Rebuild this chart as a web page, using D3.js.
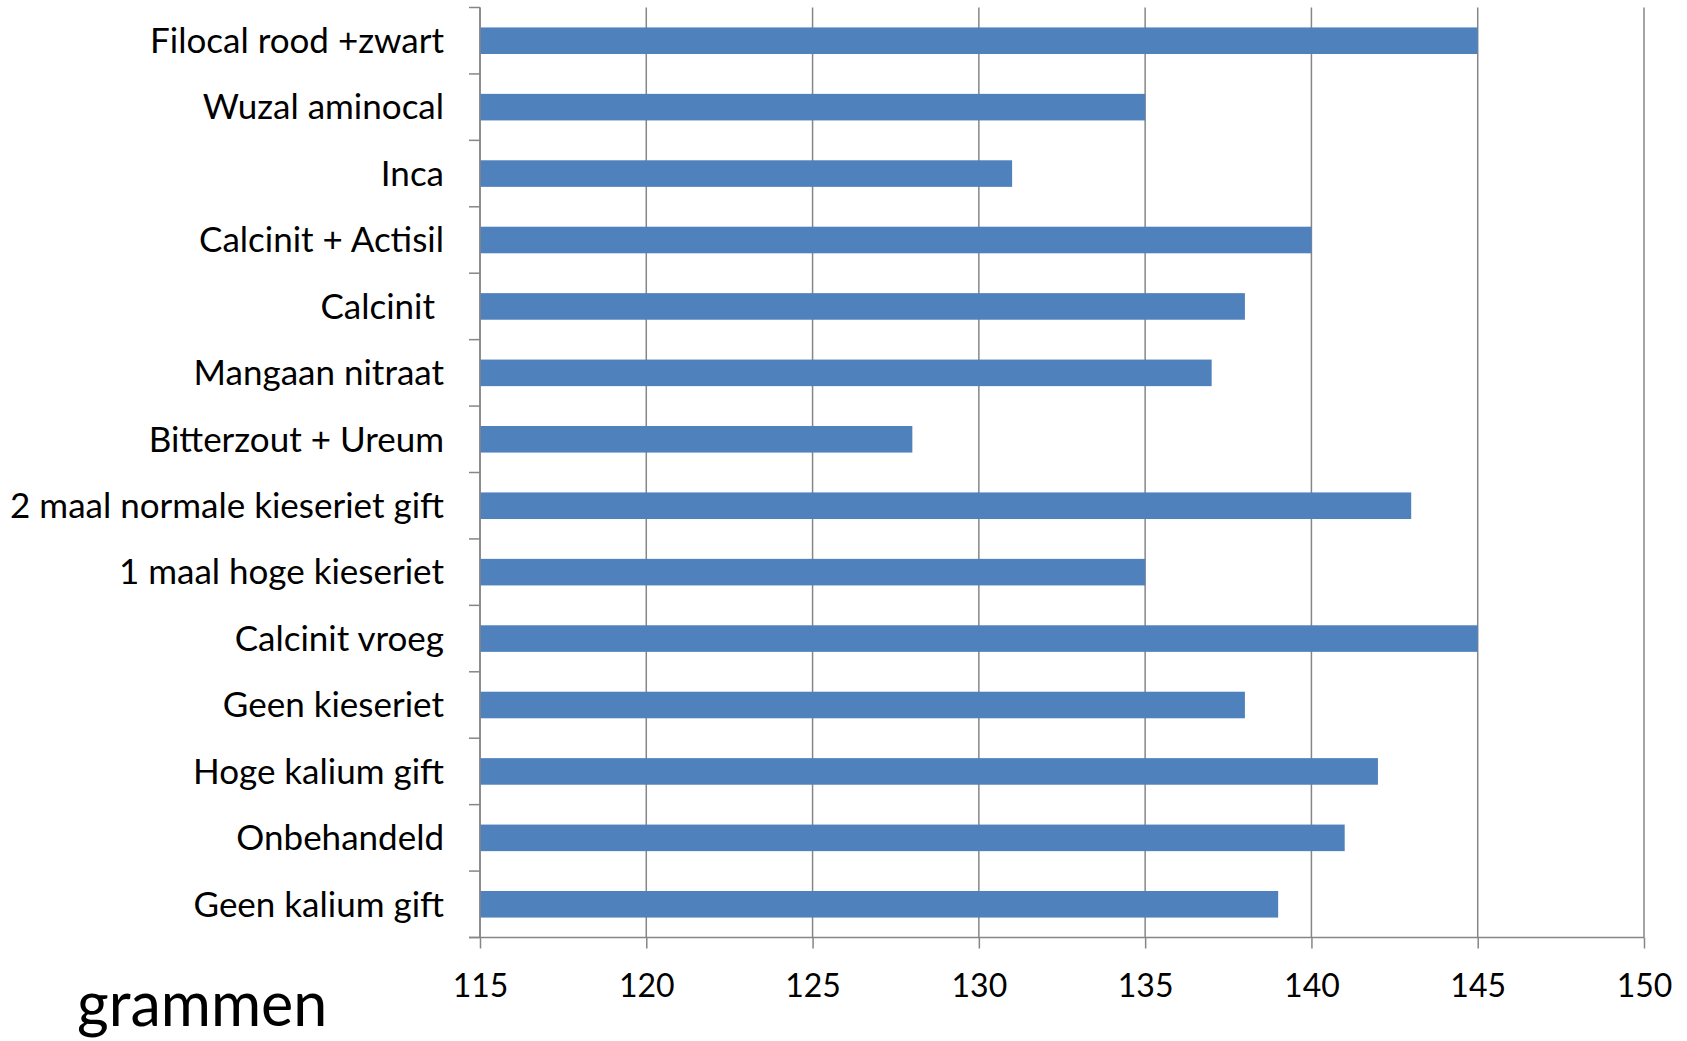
<!DOCTYPE html>
<html>
<head>
<meta charset="utf-8">
<script src="https://cdn.jsdelivr.net/npm/d3@7/dist/d3.min.js"></script>
<style>
  body { margin: 0; background: #fff; }
  text { font-family: Lato, "Open Sans", sans-serif; fill: #000; }
</style>
</head>
<body>
<div id="chart"></div>
<script>
// behandelingen, van boven naar beneden
let categories = [
    "Filocal rood +zwart",
    "Wuzal aminocal",
    "Inca",
    "Calcinit + Actisil",
    "Calcinit ",
    "Mangaan nitraat",
    "Bitterzout + Ureum",
    "2 maal normale kieseriet gift",
    "1 maal hoge kieseriet",
    "Calcinit vroeg",
    "Geen kieseriet",
    "Hoge kalium gift",
    "Onbehandeld",
    "Geen kalium gift"
];
// gewicht in grammen
let values = [145, 135, 131, 140, 138, 137, 128, 143, 135, 145, 138, 142, 141, 139];
let x_ticks = [115, 120, 125, 130, 135, 140, 145, 150];

let width = 1687;
let height = 1041;
let margin = {top: 7.5, right: 43, bottom: 103.5, left: 480};

let bar_color = "#4F81BD";
let axis_color = "#868686";

let svg = d3.select("#chart").append("svg")
    .attr("width", width)
    .attr("height", height);

let x = d3.scaleLinear()
    .domain([115, 150])
    .range([margin.left, width - margin.right]);

let y = d3.scaleBand()
    .domain(categories)
    .range([margin.top, height - margin.bottom])
    .paddingInner(0.6)
    .paddingOuter(0.3);

// y band boundaries, for the little category ticks
let step = (height - margin.bottom - margin.top) / categories.length;
let bounds = d3.range(categories.length + 1).map(i => margin.top + i * step);

// vertical gridlines
svg.append("g")
    .selectAll("line")
    .data(x_ticks)
    .enter()
    .append("line")
    .attr("x1", d => x(d))
    .attr("x2", d => x(d))
    .attr("y1", margin.top)
    .attr("y2", height - margin.bottom)
    .style("stroke", axis_color)
    .style("stroke-width", 1.5);

// bars
svg.append("g")
    .selectAll("rect")
    .data(values)
    .enter()
    .append("rect")
    .attr("x", x(115))
    .attr("y", (d, i) => y(categories[i]))
    .attr("width", d => x(d) - x(115))
    .attr("height", y.bandwidth())
    .style("fill", bar_color);

// y axis line + ticks
svg.append("line")
    .attr("x1", margin.left).attr("x2", margin.left)
    .attr("y1", margin.top).attr("y2", height - margin.bottom)
    .style("stroke", axis_color).style("stroke-width", 1.5);

svg.append("g")
    .selectAll("line")
    .data(bounds)
    .enter()
    .append("line")
    .attr("x1", margin.left - 11)
    .attr("x2", margin.left)
    .attr("y1", d => d)
    .attr("y2", d => d)
    .style("stroke", axis_color)
    .style("stroke-width", 1.5);

// category labels
svg.append("g")
    .selectAll("text")
    .data(categories)
    .enter()
    .append("text")
    .attr("x", margin.left - 36)
    .attr("y", d => y(d) + y.bandwidth() / 2)
    .attr("dy", "0.35em")
    .attr("text-anchor", "end")
    .style("white-space", "pre")
    .style("font-size", "35px")
    .text(d => d);

// x axis
let xAxis = d3.axisBottom(x)
    .tickValues(x_ticks)
    .tickSize(11)
    .tickPadding(26)
    .tickSizeOuter(0);

let gx = svg.append("g")
    .attr("transform", "translate(0," + (height - margin.bottom) + ")")
    .call(xAxis);
gx.select(".domain").remove();
gx.selectAll("line").style("stroke", axis_color).style("stroke-width", 1.5);
gx.selectAll("text")
    .style("font-size", "32px")
    .style("font-family", "Lato, 'Open Sans', sans-serif")
    .style("fill", "#000");

svg.append("line")
    .attr("x1", margin.left - 11).attr("x2", width - margin.right)
    .attr("y1", height - margin.bottom).attr("y2", height - margin.bottom)
    .style("stroke", axis_color).style("stroke-width", 1.5);

// eenheid
svg.append("text")
    .attr("x", 77)
    .attr("y", 1026)
    .style("font-size", "61px")
    .text("grammen");
</script>
</body>
</html>
